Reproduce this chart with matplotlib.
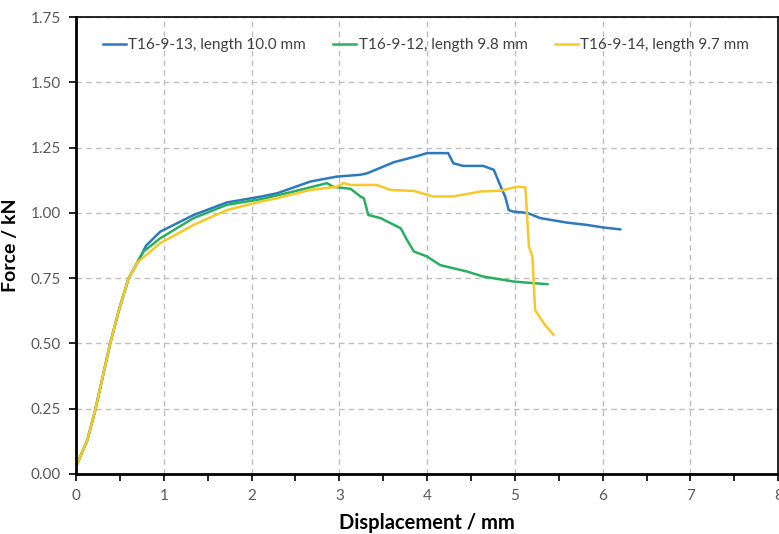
import matplotlib
matplotlib.use("Agg")
import matplotlib.pyplot as plt
from matplotlib.ticker import MultipleLocator

plt.rcParams['font.family'] = ['Lato', 'DejaVu Sans']

rise_x = [0.0, 0.13, 0.22, 0.39, 0.49, 0.60, 0.70]
rise_y = [0.028, 0.13, 0.245, 0.50, 0.628, 0.75, 0.81]

blue_x = rise_x + [0.80, 0.96, 1.34, 1.72, 2.10, 2.29, 2.56, 2.67, 2.97, 3.24, 3.32, 3.62, 3.89, 4.0, 4.24,
                   4.30, 4.41, 4.64, 4.76, 4.84, 4.89, 4.93, 4.98, 5.14, 5.29, 5.59, 5.82, 6.01, 6.2]
blue_y = rise_y + [0.875, 0.928, 0.992, 1.04, 1.062, 1.075, 1.107, 1.12, 1.139, 1.146, 1.152, 1.194, 1.218, 1.229, 1.229,
                   1.19, 1.18, 1.18, 1.165, 1.10, 1.062, 1.011, 1.005, 1.0, 0.98, 0.963, 0.954, 0.944, 0.937]

green_x = rise_x + [0.77, 0.96, 1.34, 1.72, 2.10, 2.48, 2.86, 2.93, 3.13, 3.24, 3.28, 3.33, 3.47, 3.70,
                    3.77, 3.85, 4.0, 4.15, 4.46, 4.64, 4.99, 5.21, 5.37]
green_y = rise_y + [0.852, 0.903, 0.98, 1.031, 1.052, 1.082, 1.114, 1.10, 1.092, 1.063, 1.056, 0.992, 0.98, 0.941,
                    0.897, 0.852, 0.833, 0.80, 0.775, 0.756, 0.737, 0.731, 0.727]

yellow_x = rise_x + [0.96, 1.34, 1.72, 2.10, 2.29, 2.67, 2.97, 3.05, 3.13, 3.43, 3.58, 3.85, 4.07, 4.30,
                     4.61, 4.84, 5.02, 5.12, 5.16, 5.20, 5.23, 5.33, 5.44]
yellow_y = rise_y + [0.884, 0.954, 1.011, 1.043, 1.056, 1.088, 1.10, 1.114, 1.107, 1.107, 1.088, 1.084, 1.063, 1.063,
                     1.082, 1.085, 1.10, 1.098, 0.871, 0.833, 0.628, 0.577, 0.533]

labels = ['T16-9-13, length 10.0 mm', 'T16-9-12, length 9.8 mm', 'T16-9-14, length 9.7 mm']
colors = ['#2e78bd', '#2aae62', '#f6c82a']

fig = plt.figure(figsize=(7.79, 5.34), dpi=100)
ax = fig.add_axes([0.0975, 0.1124, 0.9015, 0.8556])

for xs, ys, lab, c in zip([blue_x, green_x, yellow_x], [blue_y, green_y, yellow_y], labels, colors):
    ax.plot(xs, ys, color=c, lw=1.8, label=lab)

ax.set_xlim(0, 8)
ax.set_ylim(0, 1.75)
ax.xaxis.set_major_locator(MultipleLocator(1))
ax.xaxis.set_minor_locator(MultipleLocator(0.5))
ax.yaxis.set_major_locator(MultipleLocator(0.25))
ax.set_yticklabels([f'{v:.2f}' for v in ax.get_yticks()])
ax.grid(True, which='major', color='#bfbfbf', linestyle=(0, (4, 3)), lw=1)
ax.set_axisbelow(True)

for s in ['left', 'bottom']:
    ax.spines[s].set_linewidth(2)
for s in ['top', 'right']:
    ax.spines[s].set_linewidth(1.2)
ax.tick_params(axis='both', which='major', direction='out', length=5, width=1.2,
               labelsize=11, labelcolor='#595959', pad=6)
ax.tick_params(axis='x', which='minor', direction='out', length=5, width=1.2)

ax.set_xlabel('Displacement / mm', fontsize=14.5, fontweight='bold', labelpad=7)
ax.set_ylabel('Force / kN', fontsize=14, fontweight='bold', labelpad=8)

leg = ax.legend(loc='center', bbox_to_anchor=(0.4986, 0.939), ncol=3, frameon=False,
                fontsize=11, handlelength=1.5, handletextpad=0.15, columnspacing=1.8)
for t in leg.get_texts():
    t.set_color('#404040')

fig.savefig('out.png', dpi=100)
